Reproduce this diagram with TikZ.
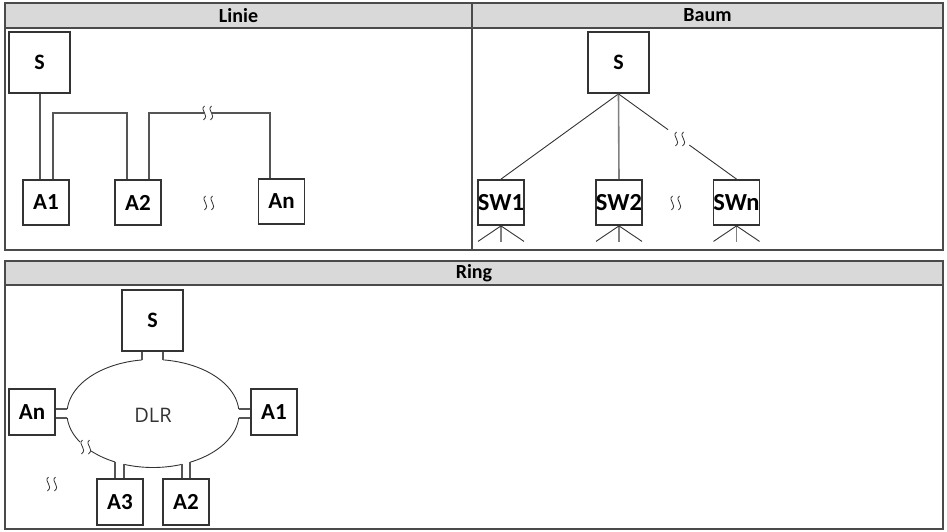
\documentclass[tikz,border=0pt]{standalone}
\usepackage{fontspec}
\setmainfont{Carlito}
\newfontfamily\dlrfont{Open Sans}
\usetikzlibrary{calc}
\definecolor{boxc}{HTML}{333333}
\definecolor{linec}{HTML}{555555}
\definecolor{tabc}{HTML}{4A4A4A}
\definecolor{headc}{HTML}{D9D9D9}
\tikzset{
  dev/.style={draw=boxc, line width=1.8pt, fill=white, inner sep=0pt, font=\bfseries\fontsize{23}{26}\selectfont},
  bigdev/.style={dev, minimum width=61pt, minimum height=61pt, font=\bfseries\fontsize{22}{26}\selectfont},
  smalldev/.style={dev, minimum width=46pt, minimum height=45pt},
  swdev/.style={dev, minimum width=46pt, minimum height=45pt, font=\bfseries\fontsize{24.5}{28}\selectfont},
  conn/.style={draw=linec, line width=1.1pt},
  tab/.style={draw=tabc, line width=1.4pt},
  head/.style={font=\bfseries\fontsize{20}{24}\selectfont},
  wig/.pic={
    \draw[boxc, line width=0.8pt] (-2.5,-7) .. controls (-8,-2.5) and (3,1.5) .. (-3.5,7);
    \draw[boxc, line width=0.8pt] (4.5,-7) .. controls (-1,-2.5) and (10,1.5) .. (3.5,7);
  }
}
\begin{document}
\begin{tikzpicture}[x=1pt,y=-1pt]
\useasboundingbox (0,0) rectangle (947,532);
% ---------- tables ----------
\fill[headc] (5,3) rectangle (943,28);
\fill[headc] (5,261) rectangle (943,285);
\draw[tab] (5,3) rectangle (943,250);
\draw[tab] (5,28) -- (943,28);
\draw[tab] (472,3) -- (472,250);
\draw[tab] (5,261) rectangle (943,529);
\draw[tab] (5,285) -- (943,285);
\node[head] (hLinie) at (238.5,15.5) {Linie};
\node[head] (hBaum) at (707.5,15.5) {Baum};
\node[head] (hRing) at (474,273) {Ring};
% ---------- Linie ----------
\node[bigdev] (LS) at (39.5,62.5) {S};
\node[smalldev] (LA1) at (46,202.5) {A1};
\node[smalldev] (LA2) at (138,202.5) {A2};
\node[smalldev] (LAn) at (281.5,201.5) {An};
\draw[conn] (40,0 |- LS.south) -- (40,0 |- LA1.north);
\draw[conn] (53,0 |- LA1.north) -- (53,113) -- (127,113) -- (127,0 |- LA2.north);
\draw[conn] (149,0 |- LA2.north) -- (149,113) -- (204,113);
\draw[conn] (212,113) -- (270,113) -- (270,0 |- LAn.north);
\pic at (207,113) {wig};
\pic at (208,203) {wig};
% ---------- Baum ----------
\node[bigdev] (BS) at (618.5,62.5) {S};
\node[swdev] (SW1) at (501,202.5) {SW1};
\node[swdev] (SW2) at (619,202.5) {SW2};
\node[swdev] (SWn) at (736.5,202.5) {SWn};
\draw[conn, line width=0.9pt, draw=boxc] (BS.south) -- (SW1.north);
\draw[conn, line width=1.6pt, draw=gray] (BS.south) -- (SW2.north);
\draw[conn, line width=0.9pt, draw=boxc] (BS.south) -- ($(BS.south)!0.42!(SWn.north)$);
\draw[conn, line width=0.9pt, draw=boxc] ($(BS.south)!0.6!(SWn.north)$) -- (SWn.north);
\pic at (679,139) {wig};
\pic at (675,203) {wig};
\foreach \n in {SW1,SW2,SWn}{
  \draw[line width=1.6pt, draw=gray] (\n.south) -- ++(0,16);
  \draw[line width=0.9pt, draw=boxc] (\n.south) -- ++(-23,15.5);
  \draw[line width=0.9pt, draw=boxc] (\n.south) -- ++(23,15.5);
}
% ---------- Ring ----------
\node[bigdev] (RS) at (152.5,320.5) {S};
\node[smalldev, minimum height=46pt] (RAn) at (32,412) {An};
\node[smalldev, minimum height=46pt] (RA1) at (274,412) {A1};
\node[smalldev, minimum height=46pt] (RA3) at (120,502) {A3};
\node[smalldev, minimum height=46pt] (RA2) at (186,502) {A2};
\node[font=\dlrfont\fontsize{20}{24}\selectfont, text=boxc] (DLR) at (153,415) {DLR};
\def\cx{153}\def\cy{413.5}\def\rx{86}\def\ry{54}
\foreach \nm/\a in {pS1/97.35,pS2/83.3,pN1/175.2,pN2/184.8,pR1/4.8,pR2/-4.8,p31/243.8,p32/250.3,p21/289.7,p22/295.5}{
  \coordinate (\nm) at ({\cx+\rx*cos(\a)},{\cy-\ry*sin(\a)});
}
\foreach \s/\e in {4.8/83.3, 97.35/175.2, 184.8/212, 224/243.8, 250.3/289.7, 295.5/355.2}{
  \draw[draw=boxc, line width=0.9pt] plot[domain=\s:\e, samples=40, smooth] ({\cx+\rx*cos(\x)},{\cy-\ry*sin(\x)});
}
\draw[conn] (pS1) -- (pS1 |- RS.south);
\draw[conn] (pS2) -- (pS2 |- RS.south);
\draw[conn] (pN1) -- (pN1 -| RAn.east);
\draw[conn] (pN2) -- (pN2 -| RAn.east);
\draw[conn] (pR1) -- (pR1 -| RA1.west);
\draw[conn] (pR2) -- (pR2 -| RA1.west);
\draw[conn] (p31) -- (p31 |- RA3.north);
\draw[conn] (p32) -- (p32 |- RA3.north);
\draw[conn] (p21) -- (p21 |- RA2.north);
\draw[conn] (p22) -- (p22 |- RA2.north);
\pic at (85,447) {wig};
\pic at (51,484) {wig};
\end{tikzpicture}
\end{document}
